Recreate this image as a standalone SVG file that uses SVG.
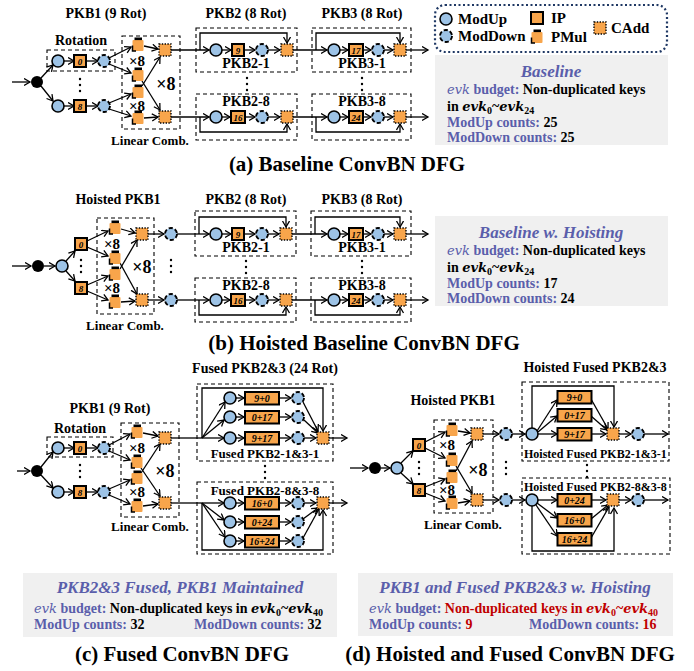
<svg xmlns="http://www.w3.org/2000/svg" xmlns:xlink="http://www.w3.org/1999/xlink" width="694" height="671" viewBox="0 0 694 671">
<style>
.c{fill:none;stroke:#000;stroke-width:1.3}
.a{marker-end:url(#ah)}
.box{fill:none;stroke:#000;stroke-width:1.1;stroke-dasharray:4 3}
.t{font-family:"Liberation Serif","Times New Roman",serif;font-weight:bold;fill:#000}
.ttl{font-size:14px;text-anchor:middle}
.lab{font-size:14px;text-anchor:middle}
.flab{font-size:13px;text-anchor:middle}
.hlab{font-size:12px}
.x8{font-size:15px;text-anchor:middle}
.X8{font-size:18px;text-anchor:middle}
.ipt{font-size:9px;font-style:italic;text-anchor:middle}
.ipw{font-size:10px;font-style:italic;text-anchor:middle}
.cap{font-size:21px;text-anchor:middle}
.leg{font-size:15px}
.info{font-size:14px}
.ih{font-size:17px;font-style:italic;text-anchor:middle;fill:#5A5EAB}
.bl{fill:#5A5EAB}
.rd{fill:#C00000}
.m{font-family:"DejaVu Serif",serif;font-style:italic;font-weight:normal;font-size:13px}
.bi{font-family:"DejaVu Serif",serif;font-style:italic;font-weight:bold;font-size:13px}
.gray{fill:#F0F0F0}
.dot{fill:#000}
</style>
<defs>
<marker id="ah" markerUnits="userSpaceOnUse" markerWidth="9" markerHeight="9" refX="6.5" refY="4" orient="auto">
<path d="M0.5,0.5 L6.5,4 L0.5,7.5" fill="none" stroke="#000" stroke-width="1.3"/>
</marker>
<g id="mu"><circle r="6" fill="#9DC3E6" stroke="#000" stroke-width="1.6"/></g>
<g id="md"><circle r="6" fill="#9DC3E6" stroke="#000" stroke-width="1.9" stroke-dasharray="4.2 2.1"/></g>
<g id="ip"><rect x="-6" y="-6" width="12" height="12" fill="#F8A54B" stroke="#000" stroke-width="2"/></g>
<g id="ip2"><rect x="-7" y="-6" width="14" height="12" fill="#F8A54B" stroke="#000" stroke-width="2"/></g>
<g id="ipw"><rect x="-17" y="-6" width="34" height="12.5" fill="#F8A54B" stroke="#000" stroke-width="2"/></g>
<g id="pm"><rect x="-5.5" y="-5" width="11" height="11" rx="1" fill="#F8A54B"/><rect x="-3.5" y="-7.5" width="7.5" height="2.6" fill="#000"/><path d="M-5.5,0.5 V6 H-2" fill="none" stroke="#000" stroke-width="1.5"/></g>
<g id="ca"><rect x="-6" y="-6" width="12" height="12" fill="#F8A54B" stroke="#000" stroke-width="1.4" stroke-dasharray="1.4 1.4"/></g>
<g id="bk"><circle r="6" fill="#000"/></g>
<g id="vd"><circle cx="0" cy="-6" r="1.2"/><circle cx="0" cy="0" r="1.2"/><circle cx="0" cy="6" r="1.2"/></g>
<clipPath id="clip1"><rect x="522" y="440" width="147.5" height="60"/></clipPath>
</defs>
<rect width="694" height="671" fill="#fff"/>

<!-- ===== Connectors ===== -->
<g id="connectors">
<!-- (a) -->
<path class="c a" d="M12,82H30"/>
<path class="c a" d="M41,78L53,65"/>
<path class="c a" d="M41,86L53,101"/>
<path class="c a" d="M64,61H74"/><path class="c a" d="M86,61H98"/>
<path class="c a" d="M64,106H74"/><path class="c a" d="M86,106H98"/>
<path class="c a" d="M109,58L131,47"/><path class="c a" d="M109,64L131,73"/>
<path class="c a" d="M109,103L131,94"/><path class="c a" d="M109,109L131,116"/>
<path class="c a" d="M144,46L158,49"/><path class="c a" d="M142,81L160,110"/>
<path class="c a" d="M142,86L160,57"/><path class="c a" d="M144,118L158,117"/>
<path class="c a" d="M171,50H209"/><path class="c a" d="M171,117H209"/>
<path class="c a" d="M200,50V33H287V43"/>
<path class="c a" d="M222,50H231"/><path class="c a" d="M244,50H255"/><path class="c a" d="M268,50H280"/>
<path class="c a" d="M293,50H327"/>
<path class="c a" d="M200,117V132H287V124"/>
<path class="c a" d="M222,117H230"/><path class="c a" d="M245,117H255"/><path class="c a" d="M268,117H280"/>
<path class="c a" d="M293,117H327"/>
<path class="c a" d="M316,50V33H400V43"/>
<path class="c a" d="M340,50H348"/><path class="c a" d="M363,50H371"/><path class="c a" d="M384,50H393"/>
<path class="c a" d="M406,50H428"/>
<path class="c a" d="M316,117V132H400V124"/>
<path class="c a" d="M340,117H348"/><path class="c a" d="M363,117H371"/><path class="c a" d="M384,117H393"/>
<path class="c a" d="M406,117H428"/>
<!-- (b) -->
<path class="c a" d="M12,266H31"/>
<path class="c a" d="M44,266H55"/>
<path class="c a" d="M66,261L75,251"/><path class="c a" d="M66,271L75,281"/>
<path class="c a" d="M87,241L108,231"/><path class="c a" d="M87,247L108,256"/>
<path class="c a" d="M87,285L108,276"/><path class="c a" d="M87,291L108,300"/>
<path class="c a" d="M121,229L135,233"/><path class="c a" d="M120,263L137,294"/>
<path class="c a" d="M120,269L137,240"/><path class="c a" d="M121,302L135,301"/>
<path class="c a" d="M148,234H164"/><path class="c a" d="M148,300H164"/>
<path class="c a" d="M177,234H209"/><path class="c a" d="M177,300H209"/>
<path class="c a" d="M199,234V217H286V227"/>
<path class="c a" d="M222,234H231"/><path class="c a" d="M244,234H255"/><path class="c a" d="M268,234H279"/>
<path class="c a" d="M292,234H327"/>
<path class="c a" d="M199,300V315H286V307"/>
<path class="c a" d="M222,300H230"/><path class="c a" d="M245,300H255"/><path class="c a" d="M268,300H279"/>
<path class="c a" d="M292,300H327"/>
<path class="c a" d="M315,234V217H400V227"/>
<path class="c a" d="M340,234H348"/><path class="c a" d="M363,234H371"/><path class="c a" d="M384,234H393"/>
<path class="c a" d="M406,234H428"/>
<path class="c a" d="M315,300V315H400V307"/>
<path class="c a" d="M340,300H348"/><path class="c a" d="M363,300H371"/><path class="c a" d="M384,300H393"/>
<path class="c a" d="M406,300H428"/>
<!-- (c) -->
<path class="c a" d="M17,471H30"/>
<path class="c a" d="M41,467L53,452"/><path class="c a" d="M41,475L53,488"/>
<path class="c a" d="M64,448H74"/><path class="c a" d="M86,448H98"/>
<path class="c a" d="M64,492H74"/><path class="c a" d="M86,492H98"/>
<path class="c a" d="M109,445L130,434"/><path class="c a" d="M109,451L130,460"/>
<path class="c a" d="M109,489L130,480"/><path class="c a" d="M109,495L130,504"/>
<path class="c a" d="M143,433L158,436"/><path class="c a" d="M141,468L160,496"/>
<path class="c a" d="M141,473L160,444"/><path class="c a" d="M143,506L158,504"/>
<path class="c" d="M171,438H202"/>
<path class="c a" d="M202,438L225,402"/><path class="c a" d="M202,438L224,420"/><path class="c a" d="M202,438H224"/>
<path class="c a" d="M202,438V388H323V431"/>
<path class="c a" d="M236,398H244"/><path class="c a" d="M236,417H244"/><path class="c a" d="M236,438H244"/>
<path class="c a" d="M279,398H291"/><path class="c a" d="M279,417H291"/><path class="c a" d="M279,438H291"/>
<path class="c a" d="M303,402L318,431"/><path class="c a" d="M304,420L318,433"/><path class="c a" d="M304,438H316"/>
<path class="c a" d="M329,438H347"/>
<path class="c" d="M171,503H202"/>
<path class="c a" d="M202,503H224"/><path class="c a" d="M202,503L224,520"/><path class="c a" d="M202,503L225,537"/>
<path class="c a" d="M202,503V550H323V510"/>
<path class="c a" d="M236,503H244"/><path class="c a" d="M236,522H244"/><path class="c a" d="M236,541H244"/>
<path class="c a" d="M279,503H291"/><path class="c a" d="M279,522H291"/><path class="c a" d="M279,541H291"/>
<path class="c a" d="M304,503H316"/><path class="c a" d="M303,519L318,508"/><path class="c a" d="M303,538L319,509"/>
<path class="c a" d="M329,503H347"/>
<!-- (d) -->
<path class="c a" d="M350,468H368"/>
<path class="c a" d="M381,468H390"/>
<path class="c a" d="M401,463L413,451"/><path class="c a" d="M401,473L413,484"/>
<path class="c a" d="M425,442L445,432"/><path class="c a" d="M425,448L445,458"/>
<path class="c a" d="M425,487L445,479"/><path class="c a" d="M425,493L445,501"/>
<path class="c a" d="M458,431L470,433"/><path class="c a" d="M456,466L472,493"/>
<path class="c a" d="M456,471L472,441"/><path class="c a" d="M458,503L470,501"/>
<path class="c a" d="M483,434H499"/><path class="c a" d="M483,500H499"/>
<path class="c a" d="M512,434H525"/><path class="c a" d="M512,500H525"/>
<path class="c a" d="M532,428V386H614V427"/>
<path class="c a" d="M537,431L557,400"/><path class="c a" d="M538,432L557,416"/><path class="c a" d="M538,434H557"/>
<path class="c a" d="M591,399L608,429"/><path class="c a" d="M591,416L607,430"/><path class="c a" d="M591,434H606"/>
<path class="c a" d="M619,434H631"/><path class="c a" d="M644,434H668"/>
<path class="c a" d="M532,506V551H614V508"/>
<path class="c a" d="M538,500H557"/><path class="c a" d="M537,503L557,518"/><path class="c a" d="M536,505L557,536"/>
<path class="c a" d="M591,500H606"/><path class="c a" d="M591,519L608,505"/><path class="c a" d="M591,538L609,507"/>
<path class="c a" d="M619,500H631"/><path class="c a" d="M644,500H668"/>
</g>

<!-- ===== Cluster boxes ===== -->
<g id="clusters">
<rect class="box" x="47" y="50" width="68" height="21"/>
<rect class="box" x="122" y="36" width="58" height="93"/>
<rect class="box" x="196" y="28" width="101" height="44"/>
<rect class="box" x="196" y="94" width="101" height="46"/>
<rect class="box" x="312" y="28" width="99" height="44"/>
<rect class="box" x="312" y="94" width="99" height="46"/>
<rect class="box" x="97" y="218" width="57" height="96"/>
<rect class="box" x="195" y="211" width="101" height="45"/>
<rect class="box" x="195" y="278" width="101" height="44"/>
<rect class="box" x="311" y="211" width="100" height="45"/>
<rect class="box" x="311" y="278" width="100" height="44"/>
<rect class="box" x="47" y="437" width="66" height="20"/>
<rect class="box" x="121" y="423" width="58" height="94"/>
<rect class="box" x="197" y="384" width="136" height="77"/>
<rect class="box" x="197" y="482" width="136" height="72"/>
<rect class="box" x="434" y="420" width="59" height="93"/>
<rect class="box" x="522" y="382" width="147" height="79"/>
<rect class="box" x="522" y="478" width="148" height="76"/>
</g>

<!-- ===== Panel (a) nodes ===== -->
<g id="a-in"><use href="#bk" x="37" y="82"/></g>
<g id="a-mu1"><use href="#mu" x="58" y="61"/></g>
<g id="a-ip0"><use href="#ip" x="80" y="61"/><text class="t ipt" x="80" y="64.5">0</text></g>
<g id="a-md1"><use href="#md" x="104" y="61"/></g>
<g id="a-mu9"><use href="#mu" x="58" y="106"/></g>
<g id="a-ip8"><use href="#ip" x="80" y="106"/><text class="t ipt" x="80" y="109.5">8</text></g>
<g id="a-md9"><use href="#md" x="104" y="106"/></g>
<g id="a-pm1"><use href="#pm" x="138" y="45"/></g>
<g id="a-pm2"><use href="#pm" x="138" y="75"/></g>
<g id="a-pm3"><use href="#pm" x="138" y="92"/></g>
<g id="a-pm4"><use href="#pm" x="138" y="118"/></g>
<g id="a-ca1"><use href="#ca" x="165" y="50"/></g>
<g id="a-ca2"><use href="#ca" x="165" y="117"/></g>
<g id="a-p21-mu"><use href="#mu" x="216" y="50"/></g>
<g id="a-p21-ip"><use href="#ip" x="238" y="50"/><text class="t ipt" x="238" y="53.5">9</text></g>
<g id="a-p21-md"><use href="#md" x="262" y="50"/></g>
<g id="a-p21-ca"><use href="#ca" x="287" y="50"/></g>
<g id="a-p28-mu"><use href="#mu" x="216" y="117"/></g>
<g id="a-p28-ip"><use href="#ip2" x="238" y="117"/><text class="t ipt" x="238" y="120.5">16</text></g>
<g id="a-p28-md"><use href="#md" x="262" y="117"/></g>
<g id="a-p28-ca"><use href="#ca" x="287" y="117"/></g>
<g id="a-p31-mu"><use href="#mu" x="334" y="50"/></g>
<g id="a-p31-ip"><use href="#ip2" x="356" y="50"/><text class="t ipt" x="356" y="53.5">17</text></g>
<g id="a-p31-md"><use href="#md" x="378" y="50"/></g>
<g id="a-p31-ca"><use href="#ca" x="400" y="50"/></g>
<g id="a-p38-mu"><use href="#mu" x="334" y="117"/></g>
<g id="a-p38-ip"><use href="#ip2" x="356" y="117"/><text class="t ipt" x="356" y="120.5">24</text></g>
<g id="a-p38-md"><use href="#md" x="378" y="117"/></g>
<g id="a-p38-ca"><use href="#ca" x="400" y="117"/></g>
<g id="a-dots" class="dot"><use href="#vd" x="80" y="85"/><use href="#vd" x="247" y="84"/><use href="#vd" x="362" y="84"/></g>
<g id="a-labels">
<text class="t ttl" x="106" y="18">PKB1 (9 Rot)</text>
<text class="t ttl" x="81" y="45">Rotation</text>
<text class="t x8" x="137" y="66">×8</text>
<text class="t x8" x="137" y="111">×8</text>
<text class="t X8" x="166" y="90">×8</text>
<text class="t flab" x="150" y="145">Linear Comb.</text>
<text class="t ttl" x="246" y="18">PKB2 (8 Rot)</text>
<text class="t ttl" x="362" y="18">PKB3 (8 Rot)</text>
<text class="t lab" x="246" y="68">PKB2-1</text>
<text class="t lab" x="246" y="106">PKB2-8</text>
<text class="t lab" x="362" y="68">PKB3-1</text>
<text class="t lab" x="362" y="106">PKB3-8</text>
</g>

<!-- ===== Legend ===== -->
<g id="legend">
<rect x="435" y="5" width="232" height="47" rx="10" fill="none" stroke="#1F3864" stroke-width="2.2" stroke-dasharray="2 2.5"/>
<use href="#mu" x="446" y="19"/>
<text class="t leg" x="458" y="24">ModUp</text>
<use href="#md" x="446" y="36"/>
<text class="t leg" x="458" y="41">ModDown</text>
<use href="#ip" x="537" y="18"/>
<text class="t leg" x="551" y="23">IP</text>
<use href="#pm" x="537" y="37"/>
<text class="t leg" x="551" y="42">PMul</text>
<use href="#ca" x="600" y="28"/>
<text class="t leg" x="611" y="33">CAdd</text>
</g>

<!-- ===== Info box (a) ===== -->
<g id="info-a">
<rect class="gray" x="435" y="55" width="233" height="90"/>
<text class="t ih" x="551" y="77">Baseline</text>
<text class="t info" x="447" y="94"><tspan class="bl"><tspan class="m">evk</tspan> budget:</tspan> Non-duplicated keys</text>
<text class="t info" x="447" y="111">in <tspan class="bi">evk</tspan><tspan font-size="10" dy="3">0</tspan><tspan dy="-3">~</tspan><tspan class="bi">evk</tspan><tspan font-size="10" dy="3">24</tspan></text>
<text class="t info" x="447" y="127"><tspan class="bl">ModUp counts:</tspan> 25</text>
<text class="t info" x="447" y="142"><tspan class="bl">ModDown counts:</tspan> 25</text>
</g>
<text class="t cap" x="347" y="171">(a) Baseline ConvBN DFG</text>

<!-- ===== Panel (b) nodes ===== -->
<g id="b-in"><use href="#bk" x="38" y="266"/></g>
<g id="b-mu"><use href="#mu" x="62" y="266"/></g>
<g id="b-ip0"><use href="#ip" x="81" y="244"/><text class="t ipt" x="81" y="247.5">0</text></g>
<g id="b-ip8"><use href="#ip" x="81" y="288"/><text class="t ipt" x="81" y="291.5">8</text></g>
<g id="b-pm1"><use href="#pm" x="115" y="228"/></g>
<g id="b-pm2"><use href="#pm" x="115" y="258"/></g>
<g id="b-pm3"><use href="#pm" x="115" y="274"/></g>
<g id="b-pm4"><use href="#pm" x="115" y="302"/></g>
<g id="b-ca1"><use href="#ca" x="142" y="234"/></g>
<g id="b-ca2"><use href="#ca" x="142" y="300"/></g>
<g id="b-md1"><use href="#md" x="171" y="234"/></g>
<g id="b-md2"><use href="#md" x="171" y="300"/></g>
<g id="b-p21-mu"><use href="#mu" x="216" y="234"/></g>
<g id="b-p21-ip"><use href="#ip" x="238" y="234"/><text class="t ipt" x="238" y="237.5">9</text></g>
<g id="b-p21-md"><use href="#md" x="262" y="234"/></g>
<g id="b-p21-ca"><use href="#ca" x="286" y="234"/></g>
<g id="b-p28-mu"><use href="#mu" x="216" y="300"/></g>
<g id="b-p28-ip"><use href="#ip2" x="238" y="300"/><text class="t ipt" x="238" y="303.5">16</text></g>
<g id="b-p28-md"><use href="#md" x="262" y="300"/></g>
<g id="b-p28-ca"><use href="#ca" x="286" y="300"/></g>
<g id="b-p31-mu"><use href="#mu" x="334" y="234"/></g>
<g id="b-p31-ip"><use href="#ip2" x="356" y="234"/><text class="t ipt" x="356" y="237.5">17</text></g>
<g id="b-p31-md"><use href="#md" x="378" y="234"/></g>
<g id="b-p31-ca"><use href="#ca" x="400" y="234"/></g>
<g id="b-p38-mu"><use href="#mu" x="334" y="300"/></g>
<g id="b-p38-ip"><use href="#ip2" x="356" y="300"/><text class="t ipt" x="356" y="303.5">24</text></g>
<g id="b-p38-md"><use href="#md" x="378" y="300"/></g>
<g id="b-p38-ca"><use href="#ca" x="400" y="300"/></g>
<g id="b-dots" class="dot"><use href="#vd" x="81" y="266"/><use href="#vd" x="171" y="266"/><use href="#vd" x="246" y="267"/><use href="#vd" x="362" y="267"/></g>
<g id="b-labels">
<text class="t ttl" x="118" y="204">Hoisted PKB1</text>
<text class="t x8" x="112" y="249">×8</text>
<text class="t x8" x="112" y="293">×8</text>
<text class="t X8" x="142" y="273">×8</text>
<text class="t flab" x="125" y="330">Linear Comb.</text>
<text class="t ttl" x="246" y="204">PKB2 (8 Rot)</text>
<text class="t ttl" x="362" y="204">PKB3 (8 Rot)</text>
<text class="t lab" x="246" y="252">PKB2-1</text>
<text class="t lab" x="246" y="290">PKB2-8</text>
<text class="t lab" x="362" y="252">PKB3-1</text>
<text class="t lab" x="362" y="290">PKB3-8</text>
</g>

<!-- ===== Info box (b) ===== -->
<g id="info-b">
<rect class="gray" x="435" y="216" width="233" height="90"/>
<text class="t ih" x="551" y="238">Baseline w. Hoisting</text>
<text class="t info" x="447" y="255"><tspan class="bl"><tspan class="m">evk</tspan> budget:</tspan> Non-duplicated keys</text>
<text class="t info" x="447" y="272">in <tspan class="bi">evk</tspan><tspan font-size="10" dy="3">0</tspan><tspan dy="-3">~</tspan><tspan class="bi">evk</tspan><tspan font-size="10" dy="3">24</tspan></text>
<text class="t info" x="447" y="288"><tspan class="bl">ModUp counts:</tspan> 17</text>
<text class="t info" x="447" y="303"><tspan class="bl">ModDown counts:</tspan> 24</text>
</g>
<text class="t cap" x="364" y="350">(b) Hoisted Baseline ConvBN DFG</text>

<!-- ===== Panel (c) nodes ===== -->
<g id="c-in"><use href="#bk" x="37" y="471"/></g>
<g id="c-mu1"><use href="#mu" x="58" y="448"/></g>
<g id="c-ip0"><use href="#ip" x="80" y="448"/><text class="t ipt" x="80" y="451.5">0</text></g>
<g id="c-md1"><use href="#md" x="104" y="448"/></g>
<g id="c-mu9"><use href="#mu" x="58" y="492"/></g>
<g id="c-ip8"><use href="#ip" x="80" y="492"/><text class="t ipt" x="80" y="495.5">8</text></g>
<g id="c-md9"><use href="#md" x="104" y="492"/></g>
<g id="c-pm1"><use href="#pm" x="137" y="432"/></g>
<g id="c-pm2"><use href="#pm" x="137" y="462"/></g>
<g id="c-pm3"><use href="#pm" x="137" y="478"/></g>
<g id="c-pm4"><use href="#pm" x="137" y="506"/></g>
<g id="c-ca1"><use href="#ca" x="165" y="438"/></g>
<g id="c-ca2"><use href="#ca" x="165" y="503"/></g>
<g id="c-f1-mu1"><use href="#mu" x="230" y="398"/></g>
<g id="c-f1-mu2"><use href="#mu" x="230" y="417"/></g>
<g id="c-f1-mu3"><use href="#mu" x="230" y="438"/></g>
<g id="c-f1-ip1"><use href="#ipw" x="262" y="398"/><text class="t ipw" x="262" y="401.8">9+0</text></g>
<g id="c-f1-ip2"><use href="#ipw" x="262" y="417"/><text class="t ipw" x="262" y="420.8">0+17</text></g>
<g id="c-f1-ip3"><use href="#ipw" x="262" y="438"/><text class="t ipw" x="262" y="441.8">9+17</text></g>
<g id="c-f1-md1"><use href="#md" x="298" y="398"/></g>
<g id="c-f1-md2"><use href="#md" x="298" y="417"/></g>
<g id="c-f1-md3"><use href="#md" x="298" y="438"/></g>
<g id="c-f1-ca"><use href="#ca" x="323" y="438"/></g>
<g id="c-f8-mu1"><use href="#mu" x="230" y="503"/></g>
<g id="c-f8-mu2"><use href="#mu" x="230" y="522"/></g>
<g id="c-f8-mu3"><use href="#mu" x="230" y="541"/></g>
<g id="c-f8-ip1"><use href="#ipw" x="262" y="503"/><text class="t ipw" x="262" y="506.8">16+0</text></g>
<g id="c-f8-ip2"><use href="#ipw" x="262" y="522"/><text class="t ipw" x="262" y="525.8">0+24</text></g>
<g id="c-f8-ip3"><use href="#ipw" x="262" y="541"/><text class="t ipw" x="262" y="544.8">16+24</text></g>
<g id="c-f8-md1"><use href="#md" x="298" y="503"/></g>
<g id="c-f8-md2"><use href="#md" x="298" y="522"/></g>
<g id="c-f8-md3"><use href="#md" x="298" y="541"/></g>
<g id="c-f8-ca"><use href="#ca" x="323" y="503"/></g>
<g id="c-dots" class="dot"><use href="#vd" x="80" y="471"/><use href="#vd" x="265" y="472"/></g>
<g id="c-labels">
<text class="t ttl" x="110" y="413">PKB1 (9 Rot)</text>
<text class="t ttl" x="80" y="433">Rotation</text>
<text class="t x8" x="137" y="453">×8</text>
<text class="t x8" x="137" y="497">×8</text>
<text class="t X8" x="165" y="477">×8</text>
<text class="t flab" x="150" y="531">Linear Comb.</text>
<text class="t ttl" x="265" y="373" font-size="13.5">Fused PKB2&amp;3 (24 Rot)</text>
<text class="t flab" x="265" y="458">Fused PKB2-1&amp;3-1</text>
<text class="t flab" x="265" y="495">Fused PKB2-8&amp;3-8</text>
</g>

<!-- ===== Panel (d) nodes ===== -->
<g id="d-in"><use href="#bk" x="375" y="468"/></g>
<g id="d-mu"><use href="#mu" x="397" y="468"/></g>
<g id="d-ip0"><use href="#ip" x="419" y="445"/><text class="t ipt" x="419" y="448.5">0</text></g>
<g id="d-ip8"><use href="#ip" x="419" y="490"/><text class="t ipt" x="419" y="493.5">8</text></g>
<g id="d-pm1"><use href="#pm" x="452" y="430"/></g>
<g id="d-pm2"><use href="#pm" x="452" y="460"/></g>
<g id="d-pm3"><use href="#pm" x="452" y="477"/></g>
<g id="d-pm4"><use href="#pm" x="452" y="503"/></g>
<g id="d-ca1"><use href="#ca" x="477" y="434"/></g>
<g id="d-ca2"><use href="#ca" x="477" y="500"/></g>
<g id="d-md1"><use href="#md" x="506" y="434"/></g>
<g id="d-md2"><use href="#md" x="506" y="500"/></g>
<g id="d-f1-mu"><use href="#mu" x="532" y="434"/></g>
<g id="d-f1-ip1"><use href="#ipw" x="574.5" y="397"/><text class="t ipw" x="574.5" y="400.8">9+0</text></g>
<g id="d-f1-ip2"><use href="#ipw" x="574.5" y="415"/><text class="t ipw" x="574.5" y="418.8">0+17</text></g>
<g id="d-f1-ip3"><use href="#ipw" x="574.5" y="434"/><text class="t ipw" x="574.5" y="437.8">9+17</text></g>
<g id="d-f1-ca"><use href="#ca" x="613" y="434"/></g>
<g id="d-f1-md"><use href="#md" x="638" y="434"/></g>
<g id="d-f8-mu"><use href="#mu" x="532" y="500"/></g>
<g id="d-f8-ip1"><use href="#ipw" x="574.5" y="500"/><text class="t ipw" x="574.5" y="503.8">0+24</text></g>
<g id="d-f8-ip2"><use href="#ipw" x="574.5" y="520"/><text class="t ipw" x="574.5" y="523.8">16+0</text></g>
<g id="d-f8-ip3"><use href="#ipw" x="574.5" y="539"/><text class="t ipw" x="574.5" y="542.8">16+24</text></g>
<g id="d-f8-ca"><use href="#ca" x="613" y="500"/></g>
<g id="d-f8-md"><use href="#md" x="638" y="500"/></g>
<g id="d-dots" class="dot"><use href="#vd" x="419" y="468"/><use href="#vd" x="506" y="468"/><use href="#vd" x="587" y="471"/></g>
<g id="d-labels">
<text class="t ttl" x="453" y="405">Hoisted PKB1</text>
<text class="t x8" x="447" y="450">×8</text>
<text class="t x8" x="447" y="495">×8</text>
<text class="t X8" x="478" y="476">×8</text>
<text class="t flab" x="463" y="529">Linear Comb.</text>
<text class="t ttl" x="595" y="372">Hoisted Fused PKB2&amp;3</text>
<g clip-path="url(#clip1)">
<text class="t hlab" x="524" y="458">Hoisted Fused PKB2-1&amp;3-1</text>
<text class="t hlab" x="524" y="491">Hoisted Fused PKB2-8&amp;3-8</text>
</g>
</g>

<!-- ===== Info box (c) ===== -->
<g id="info-c">
<rect class="gray" x="23" y="573" width="314" height="64"/>
<text class="t ih" x="180" y="593">PKB2&amp;3 Fused, PKB1 Maintained</text>
<text class="t info" x="34" y="613"><tspan class="bl"><tspan class="m">evk</tspan> budget:</tspan> Non-duplicated keys in <tspan class="bi">evk</tspan><tspan font-size="10" dy="3">0</tspan><tspan dy="-3">~</tspan><tspan class="bi">evk</tspan><tspan font-size="10" dy="3">40</tspan></text>
<text class="t info" x="34" y="629"><tspan class="bl">ModUp counts:</tspan> 32</text>
<text class="t info" x="194" y="629"><tspan class="bl">ModDown counts:</tspan> 32</text>
</g>
<text class="t cap" x="182" y="661">(c) Fused ConvBN DFG</text>

<!-- ===== Info box (d) ===== -->
<g id="info-d">
<rect class="gray" x="358" y="573" width="315" height="63"/>
<text class="t ih" x="515" y="593">PKB1 and Fused PKB2&amp;3 w. Hoisting</text>
<text class="t info" x="369" y="613"><tspan class="bl"><tspan class="m">evk</tspan> budget:</tspan><tspan class="rd"> Non-duplicated keys in <tspan class="bi">evk</tspan><tspan font-size="10" dy="3">0</tspan><tspan dy="-3">~</tspan><tspan class="bi">evk</tspan><tspan font-size="10" dy="3">40</tspan></tspan></text>
<text class="t info" x="369" y="629"><tspan class="bl">ModUp counts:</tspan><tspan class="rd"> 9</tspan></text>
<text class="t info" x="529" y="629"><tspan class="bl">ModDown counts:</tspan><tspan class="rd"> 16</tspan></text>
</g>
<text class="t cap" x="510" y="661">(d) Hoisted and Fused ConvBN DFG</text>
</svg>
